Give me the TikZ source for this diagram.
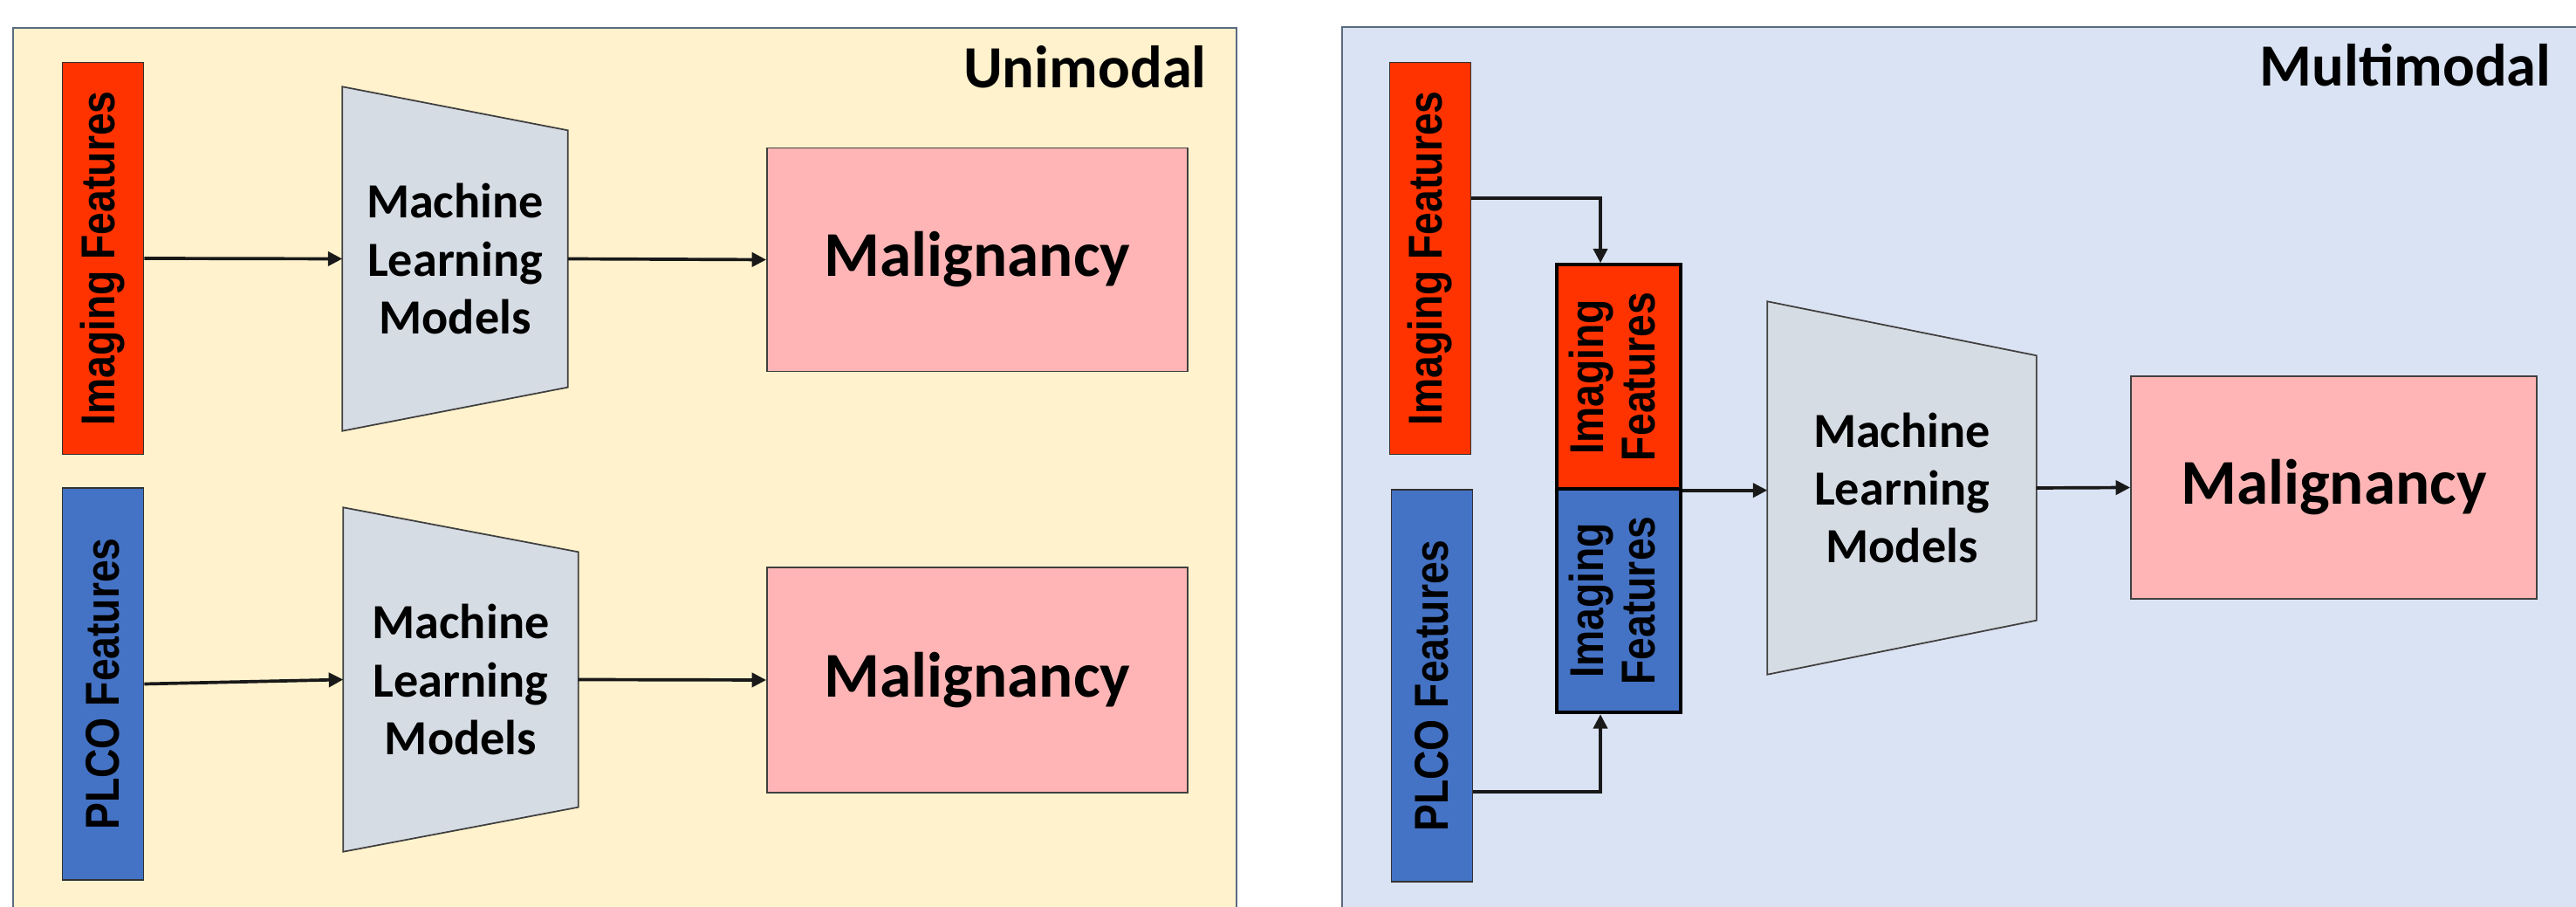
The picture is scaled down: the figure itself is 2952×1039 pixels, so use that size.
\documentclass[tikz,border=0pt]{standalone}
\usepackage{fontspec}
\setmainfont{Carlito}
\newfontfamily\barfont{Liberation Sans}[BoldFont={Liberation Sans Bold}, FakeStretch=0.85]
\usetikzlibrary{positioning,arrows.meta,calc,backgrounds}

\definecolor{uniback}{HTML}{FFF2CC}
\definecolor{multiback}{HTML}{DAE3F3}
\definecolor{panelline}{HTML}{5A6A80}
\definecolor{imgred}{HTML}{FF3300}
\definecolor{plcoblue}{HTML}{4472C4}
\definecolor{malpink}{HTML}{FFB5B5}
\definecolor{mlgray}{HTML}{D6DCE4}

% rotated label text for the feature bars
\newcommand\vtxt[1]{\rotatebox{90}{#1}}
% trapezoid body behind a model node: #1 node, #2 inset on the narrow side
\newcommand\mlbody[2]{%
  \begin{scope}[on background layer]
    \draw[trap] (#1.north west) -- ([yshift=-#2]#1.north east)
      -- ([yshift=#2]#1.south east) -- (#1.south west) -- cycle;
  \end{scope}}

\begin{document}
\begin{tikzpicture}[
  x=0.1mm, y=-0.1mm,
  >={Triangle[length=4.7pt,width=4.6pt]},
  panel/.style={draw=panelline, line width=0.7pt, anchor=north west, inner sep=0pt},
  bar/.style={draw=black!80, line width=0.5pt, inner sep=0pt,
              minimum width=9.3mm, minimum height=44.9mm,
              font=\barfont\bfseries\fontsize{15.5}{17}\selectfont},
  stackbox/.style={bar, draw=black, line width=1.1pt,
              minimum width=14.2mm, minimum height=25.65mm},
  mal/.style={draw=black!75, line width=0.5pt, fill=malpink, inner sep=0pt,
              font=\bfseries\fontsize{20.8}{24}\selectfont},
  ml/.style={inner sep=0pt, align=center, font=\bfseries\fontsize{16}{18.8}\selectfont},
  trap/.style={draw=black!75, line width=0.5pt, fill=mlgray},
  heading/.style={anchor=base east, font=\bfseries\fontsize{19.5}{22}\selectfont},
  arr/.style={->, draw=black!90, line width=1.05pt}
]
\useasboundingbox (0,0) rectangle (2952,1039);
% ---------------- panels
\begin{scope}[on background layer]
\node[panel, fill=uniback, minimum width=140.2mm, minimum height=107mm] (pu) at (14,31) {};
\node[panel, fill=multiback, minimum width=146.5mm, minimum height=107mm] (pm) at (1537,30) {};
\end{scope}
\node[heading] (tu) at (1395,101) {Unimodal};
\node[heading] (tm) at (2936,99) {Multimodal};
% ---------------- unimodal, imaging
\node[bar, fill=imgred] (ui) at (118,296) {\vtxt{Imaging Features}};
\node[ml, minimum width=25.7mm, minimum height=39.3mm] (uml1) at (521.5,296.5)
  {Machine\\ Learning\\ Models};
\mlbody{uml1}{5mm}
\node[mal, minimum width=48.2mm, minimum height=25.6mm] (umal1) at (1120,297.5) {Malignancy};
\draw[arr] (ui.east) -- (uml1.west);
\draw[arr] (uml1.east) -- (umal1.west);
% ---------------- unimodal, PLCO
\node[bar, fill=plcoblue] (up) at (118,783.5) {\vtxt{PLCO Features}};
\node[ml, minimum width=26.8mm, minimum height=39.3mm] (uml2) at (528,778.5)
  {Machine\\ Learning\\ Models};
\mlbody{uml2}{5.1mm}
\node[mal, minimum width=48.2mm, minimum height=25.8mm] (umal2) at (1120,779) {Malignancy};
\draw[arr] (up.east) -- (uml2.west);
\draw[arr] (uml2.east) -- (umal2.west);
% ---------------- multimodal
\node[bar, fill=imgred] (mi) at (1639,296) {\vtxt{Imaging Features}};
\node[bar, fill=plcoblue] (mp) at (1641,785.5) {\vtxt{PLCO Features}};
\node[stackbox, fill=imgred] (ms1) at (1855,431.5)
  {\vtxt{\begin{tabular}{@{}c@{}}Imaging\\ Features\end{tabular}}};
\node[stackbox, fill=plcoblue] (ms2) at (1855,688)
  {\vtxt{\begin{tabular}{@{}c@{}}Imaging\\ Features\end{tabular}}};
\draw[arr] ([yshift=6.9mm]mi.east) -| ([xshift=-2.1mm]ms1.north);
\draw[arr] ([yshift=-12.15mm]mp.east) -| ([xshift=-2.1mm]ms2.south);
\node[ml, minimum width=30.7mm, minimum height=42.6mm] (mml) at (2179.5,559)
  {Machine\\ Learning\\ Models};
\mlbody{mml}{6.2mm}
\node[mal, minimum width=46.5mm, minimum height=25.5mm] (mmal) at (2674.5,558.5) {Malignancy};
\draw[arr] (ms1.south east) -- (ms1.south east -| mml.west);
\draw[arr] (mml.east) -- (mmal.west);
\end{tikzpicture}
\end{document}
